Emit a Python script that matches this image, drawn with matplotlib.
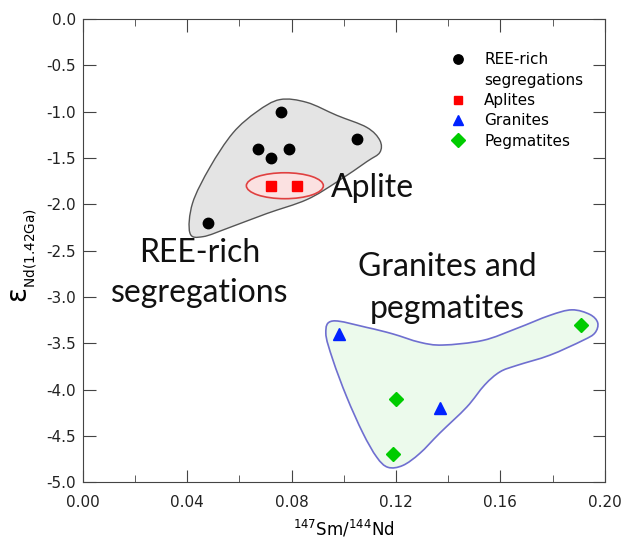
import numpy as np
import matplotlib.pyplot as plt
from matplotlib.path import Path
from matplotlib.patches import PathPatch, Ellipse
from matplotlib.lines import Line2D
from matplotlib.ticker import MultipleLocator

# data points: 147Sm/144Nd vs eps Nd(1.42 Ga)
ree_x = [0.048, 0.067, 0.072, 0.076, 0.079, 0.105]
ree_y = [-2.2, -1.4, -1.5, -1.0, -1.4, -1.3]
aplite_x = [0.072, 0.082]
aplite_y = [-1.8, -1.8]
granite_x = [0.098, 0.137]
granite_y = [-3.4, -4.2]
pegmatite_x = [0.119, 0.120, 0.191]
pegmatite_y = [-4.7, -4.1, -3.3]

# hand-drawn group outlines (data coordinates)
ree_outline = [(0.041, -2.31), (0.042, -1.99), (0.0487, -1.60), (0.0575, -1.23),
               (0.0667, -1.00), (0.0755, -0.87), (0.0858, -0.90), (0.0973, -1.04),
               (0.1088, -1.17), (0.1138, -1.31), (0.1138, -1.44), (0.1088, -1.54),
               (0.0973, -1.76), (0.0858, -1.95), (0.0705, -2.10), (0.0563, -2.25),
               (0.046, -2.35)]
granite_outline = [(0.0958, -3.26), (0.1088, -3.33), (0.1188, -3.40), (0.1291, -3.49),
                   (0.1379, -3.52), (0.1533, -3.47), (0.1663, -3.34), (0.1789, -3.20),
                   (0.1874, -3.14), (0.1943, -3.19), (0.1973, -3.28), (0.1962, -3.39),
                   (0.1916, -3.47), (0.1789, -3.63), (0.1663, -3.74), (0.1598, -3.81),
                   (0.1540, -3.95), (0.1471, -4.19), (0.1368, -4.47), (0.1291, -4.69),
                   (0.1226, -4.82), (0.1169, -4.84), (0.1126, -4.73), (0.1073, -4.47),
                   (0.1011, -4.08), (0.0958, -3.68), (0.0931, -3.39)]
aplite_center = (0.0774, -1.80)
aplite_size = (0.0295, 0.28)


def smooth_closed(pts):
    # closed Catmull-Rom curve turned into cubic beziers
    p = np.array(pts)
    n = len(p)
    verts = [p[0]]
    codes = [Path.MOVETO]
    for i in range(n):
        p0, p1, p2, p3 = p[i - 1], p[i], p[(i + 1) % n], p[(i + 2) % n]
        verts += [p1 + (p2 - p0) / 6, p2 - (p3 - p1) / 6, p2]
        codes += [Path.CURVE4] * 3
    return Path(verts, codes)


fig = plt.figure(figsize=(6.28, 5.51), dpi=100)
ax = fig.add_axes([0.132, 0.125, 0.831, 0.8405])

ax.add_patch(PathPatch(smooth_closed(ree_outline), facecolor='#e4e4e4',
                       edgecolor='#555555', lw=1.0, zorder=1))
ax.add_patch(Ellipse(aplite_center, aplite_size[0], aplite_size[1],
                     facecolor='#fbe1e1', edgecolor='#e04040', lw=1.2, zorder=2))
ax.add_patch(PathPatch(smooth_closed(granite_outline), facecolor='#ecfaec',
                       edgecolor='#6f6fd0', lw=1.2, zorder=1))

h_ree, = ax.plot(ree_x, ree_y, 'o', color='black', ms=7.5, ls='none', zorder=3)
h_apl, = ax.plot(aplite_x, aplite_y, 's', color='#ff0000', ms=7, ls='none', zorder=3)
h_gra, = ax.plot(granite_x, granite_y, '^', color='#0022ff', ms=8, ls='none', zorder=3)
h_peg, = ax.plot(pegmatite_x, pegmatite_y, 'D', color='#00cc00', ms=7.5, ls='none',
                 zorder=3)

# group labels
big = dict(fontsize=23, family='Lato', color='#111111', zorder=4)
ax.text(0.111, -1.92, 'Aplite', ha='center', va='baseline', **big)
ax.text(0.0448, -3.056, 'REE-rich\nsegregations', ha='center', va='baseline',
        linespacing=1.4, **big)
ax.text(0.1395, -3.23, 'Granites and\npegmatites', ha='center', va='baseline',
        linespacing=1.5, **big)

ax.set_xlim(0, 0.2)
ax.set_ylim(-5, 0)
ax.xaxis.set_major_locator(MultipleLocator(0.04))
ax.xaxis.set_minor_locator(MultipleLocator(0.02))
ax.yaxis.set_major_locator(MultipleLocator(0.5))
ax.xaxis.set_major_formatter(plt.FuncFormatter(lambda v, p: f'{v:.2f}'))
ax.yaxis.set_major_formatter(plt.FuncFormatter(lambda v, p: f'{v:.1f}'))
ax.tick_params(which='both', direction='in', top=True, right=True,
               labelsize=11, color='#444444', labelcolor='#222222')
ax.tick_params(which='major', length=9)
ax.tick_params(which='minor', length=5)
ax.tick_params(axis='x', which='major', pad=9)
ax.tick_params(axis='y', which='major', pad=5)
for s in ax.spines.values():
    s.set_color('#444444')

ax.set_xlabel(r'$^{147}$Sm/$^{144}$Nd', fontsize=12, labelpad=6)
ax.set_ylabel(r'ε$_{{}_{\mathrm{Nd(1.42Ga)}}}$', fontsize=20)
ax.yaxis.set_label_coords(-0.085, 0.49)

blank = Line2D([], [], ls='none', marker=None)
ax.legend([h_ree, blank, h_apl, h_gra, h_peg],
          ['REE-rich', 'segregations', 'Aplites', 'Granites', 'Pegmatites'],
          loc='upper right', bbox_to_anchor=(0.985, 0.958), frameon=False,
          fontsize=11, handletextpad=1.1, labelspacing=0.35, handlelength=1.2,
          markerscale=0.9)

fig.savefig('out.png', dpi=100)
